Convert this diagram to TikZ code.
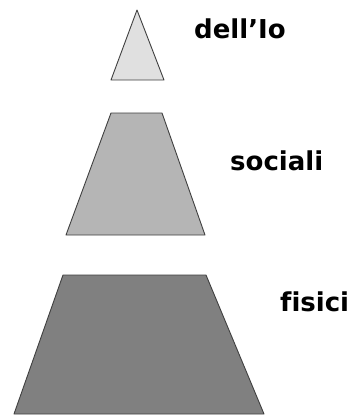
\documentclass[tikz,border=0pt]{standalone}
\usepackage{fontspec}
\setmainfont[Ligatures=NoCommon]{DejaVu Sans}
\begin{document}
\begin{tikzpicture}[x=1pt,y=-1pt,
  level/.style={draw=black!75,line width=0.9pt,line join=round},
  lab/.style={font=\bfseries\fontsize{26}{30}\selectfont,anchor=base west,inner sep=0pt}]
\useasboundingbox (0,0) rectangle (352,416);
\fill[white] (0,0) rectangle (352,416);
\draw[level,fill=black!12] (137,10) -- (164,80) -- (111,80) -- cycle;
\draw[level,fill=black!29] (111,113) -- (162,113) -- (205,235) -- (66,235) -- cycle;
\draw[level,fill=black!50] (63,275) -- (206,275) -- (264,414) -- (14,414) -- cycle;
\node[lab] (io) at (194,38) {dell’Io};
\node[lab] (soc) at (230,170) {sociali};
\node[lab] (fis) at (280,311) {f\kern0pt isici};
\end{tikzpicture}
\end{document}
